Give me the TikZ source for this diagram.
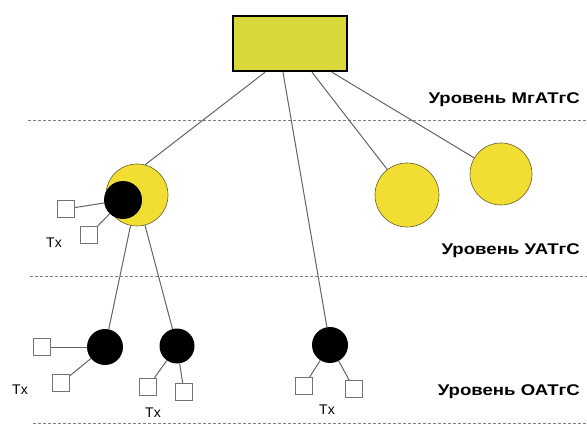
\documentclass[tikz,border=0pt]{standalone}
\usepackage{fontspec}
\setmainfont{Liberation Sans}
\newfontfamily\levelfont[FakeStretch=1.2]{Liberation Sans}
\usetikzlibrary{positioning}
\definecolor{rectyellow}{RGB}{216,216,58}
\definecolor{circyellow}{RGB}{242,222,50}
\definecolor{edgegray}{RGB}{100,100,100}
\tikzset{Tree/.style = {
		every node/.style = {inner sep=0pt},
		center/.style = {rectangle, draw=black, line width=2.5pt, fill=rectyellow,
			minimum width=114pt, minimum height=55pt},
		station/.style = {circle, draw=olive!60!black, semithick, fill=circyellow},
		hub/.style = {circle, fill=black},
		txbox/.style = {rectangle, draw=gray!90!black, line width=1pt, fill=white, minimum size=17pt},
		txtext/.style = {font=\fontsize{14}{14}\selectfont},
		leveltext/.style = {anchor=east, font=\levelfont\bfseries\fontsize{15.5}{15.5}\selectfont},
		link/.style = {draw=edgegray, line width=1pt},
		levelline/.style = {draw=gray, line width=1pt, dash pattern=on 3pt off 2pt}
	}% end of Tree style
}
\begin{document}
\begin{tikzpicture}[Tree, x=1pt, y=-1pt]
  \useasboundingbox (0,0) rectangle (587,425);

  % level borders
  \coordinate (L1a) at (28,121);  \coordinate (L1b) at (587,121);
  \coordinate (L2a) at (30,276);  \coordinate (L2b) at (587,276);
  \coordinate (L3a) at (33,423);  \coordinate (L3b) at (587,423);
  \draw[levelline] (L1a) -- (L1b);
  \draw[levelline] (L2a) -- (L2b);
  \draw[levelline] (L3a) -- (L3b);

  \node[leveltext] (Mtext) at (580,100) {Уровень МгАТгС};
  \node[leveltext] (Utext) at (580,251) {Уровень УАТгС};
  \node[leveltext] (Otext) at (580,392) {Уровень ОАТгС};

  % top
  \node[center] (Top) at (290,43.5) {};

  % second level
  \node[station, minimum size=62pt] (U1) at (137,195) {};
  \node[hub, minimum size=38pt] (Uh) at (123,200) {};
  \node[station, minimum size=64pt] (U2) at (407,195) {};
  \node[station, minimum size=62pt] (U3) at (501,174) {};
  \draw[link] ([xshift=-25pt]Top.south) -- (U1.75);
  \draw[link] ([xshift=22pt]Top.south) -- (U2);
  \draw[link] ([xshift=42pt]Top.south) -- (U3);

  \node[txbox] (U1a) at (66,209) {};
  \node[txbox] (U1b) at (89,235) {};
  \node[txtext] (T1) at (54,243) {Tx};
  \draw[link] (U1a) -- (Uh);
  \draw[link] (U1b) -- (Uh);

  % third level
  \node[hub, minimum size=36pt] (O1) at (105,347) {};
  \node[hub, minimum size=35pt] (O2) at (177,346) {};
  \node[hub, minimum size=36pt] (O3) at (330,345) {};
  \draw[link] (U1) -- (O1);
  \draw[link] (U1) -- (O2);
  \draw[link] ([xshift=-7pt]Top.south) -- (O3);

  \node[txbox] (O1a) at (42,347) {};
  \node[txbox] (O1b) at (61,383) {};
  \node[txtext] (T2) at (20,390) {Tx};
  \draw[link] (O1a) -- (O1);
  \draw[link] (O1b) -- (O1);

  \node[txbox] (O2a) at (148,387) {};
  \node[txbox] (O2b) at (184,392) {};
  \node[txtext] (T3) at (153,413) {Tx};
  \draw[link] (O2a) -- (O2);
  \draw[link] (O2b) -- (O2);

  \node[txbox] (O3a) at (304,386) {};
  \node[txbox] (O3b) at (354,389) {};
  \node[txtext] (T4) at (327,410) {Tx};
  \draw[link] (O3a) -- (O3);
  \draw[link] (O3b) -- (O3);
\end{tikzpicture}
\end{document}
